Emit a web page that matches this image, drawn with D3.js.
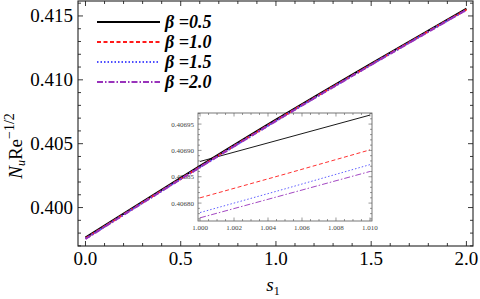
<!DOCTYPE html>
<html>
<head>
<meta charset="utf-8">
<script src="https://cdn.jsdelivr.net/npm/d3@7"></script>
<style>
  body { margin: 0; background: #fff; }
  svg { display: block; }
  svg text { font-family: "Liberation Serif", "Times New Roman", "DejaVu Serif", serif; }
</style>
</head>
<body>
<svg></svg>
<script>
// main plot data
const sValues = [0.0, 0.5, 1.0, 1.5, 2.0];
const nu05 = [0.39765, 0.40232, 0.40688, 0.41127, 0.41557];
const nu10 = [0.39758, 0.40225, 0.40681, 0.41120, 0.41550];
const nu15 = [0.39756, 0.40223, 0.40678, 0.41118, 0.41548];
const nu20 = [0.39754, 0.40222, 0.40677, 0.41117, 0.41547];
const betaLabels = ["0.5", "1.0", "1.5", "2.0"];
const xTicks = [0.0, 0.5, 1.0, 1.5, 2.0];
const yTicks = [0.400, 0.405, 0.410, 0.415];

// inset (zoom near s1 = 1)
const insetS = [1.000, 1.005, 1.010];
const inset05 = [0.406879, 0.406923, 0.406967];
const inset10 = [0.406810, 0.406855, 0.406901];
const inset15 = [0.406782, 0.406827, 0.406873];
const inset20 = [0.406772, 0.406816, 0.406860];
const insetXTicks = [1.000, 1.002, 1.004, 1.006, 1.008, 1.010];
const insetYTicks = [0.40680, 0.40685, 0.40690, 0.40695];

const colors = ["#000000", "#ff1a1a", "#4d4dff", "#9933bb"];
const dashes = [null, "4,2.5", "1.5,2", "6,2,1.5,2"];
const serif = "'Liberation Serif', 'Times New Roman', 'DejaVu Serif', serif";

const svg = d3.select("svg").attr("width", 480).attr("height", 299)
  .attr("font-family", serif);

const x = d3.scaleLinear().domain([-0.0393, 2.0346]).range([78, 473]);
const y = d3.scaleLinear().domain([0.39699, 0.41617]).range([246, 1]);

// ---------- inset ----------
const ix = d3.scaleLinear().domain([0.99988, 1.01012]).range([198, 372]);
const iy = d3.scaleLinear().domain([0.406766, 0.406971]).range([221, 113]);

const inset = svg.append("g");
const insetSeries = [inset05, inset10, inset15, inset20];

inset.selectAll("path.iline")
  .data(insetSeries)
  .enter()
  .append("path")
  .attr("class", "iline")
  .attr("fill", "none")
  .attr("stroke", (d, i) => colors[i])
  .attr("stroke-width", 0.9)
  .attr("stroke-dasharray", (d, i) => dashes[i])
  .attr("d", d => d3.line().x((v, j) => ix(insetS[j])).y(v => iy(v))(d));

inset.append("rect")
  .attr("x", 198).attr("y", 113).attr("width", 174).attr("height", 108)
  .attr("fill", "none").attr("stroke", "#555").attr("stroke-width", 0.8);

const insetTicks = inset.append("g").attr("stroke", "#555").attr("stroke-width", 0.6);
const ixMinor = d3.range(1.000, 1.01001, 0.0005);
ixMinor.forEach((t, k) => {
  const len = k % 4 === 0 ? 3.5 : 2;
  insetTicks.append("line").attr("x1", ix(t)).attr("x2", ix(t)).attr("y1", 221).attr("y2", 221 - len);
  insetTicks.append("line").attr("x1", ix(t)).attr("x2", ix(t)).attr("y1", 113).attr("y2", 113 + len);
});
const iyMinor = d3.range(0.40677, 0.406971, 0.00001);
iyMinor.forEach(t => {
  const major = Math.abs(Math.round(t * 1e5) % 5) === 0;
  const len = major ? 3.5 : 2;
  insetTicks.append("line").attr("x1", 198).attr("x2", 198 + len).attr("y1", iy(t)).attr("y2", iy(t));
  insetTicks.append("line").attr("x1", 372).attr("x2", 372 - len).attr("y1", iy(t)).attr("y2", iy(t));
});

inset.selectAll("text.ixl")
  .data(insetXTicks)
  .enter()
  .append("text")
  .attr("x", d => ix(d))
  .attr("y", 230)
  .attr("text-anchor", "middle")
  .attr("font-size", 7)
  .attr("fill", "#444")
  .text(d => d3.format(".3f")(d));

inset.selectAll("text.iyl")
  .data(insetYTicks)
  .enter()
  .append("text")
  .attr("x", 194)
  .attr("y", d => iy(d) + 2.5)
  .attr("text-anchor", "end")
  .attr("font-size", 7)
  .attr("fill", "#444")
  .text(d => d3.format(".5f")(d));

// ---------- main frame ----------
svg.append("rect")
  .attr("x", 78).attr("y", 1).attr("width", 395).attr("height", 245)
  .attr("fill", "none").attr("stroke", "#222").attr("stroke-width", 1.1);

const ticks = svg.append("g").attr("stroke", "#222").attr("stroke-width", 0.9);
d3.range(0, 2.0001, 0.1).forEach((t, k) => {
  const len = k % 5 === 0 ? 5 : 3;
  ticks.append("line").attr("x1", x(t)).attr("x2", x(t)).attr("y1", 246).attr("y2", 246 - len);
  ticks.append("line").attr("x1", x(t)).attr("x2", x(t)).attr("y1", 1).attr("y2", 1 + len);
});
d3.range(0.397, 0.4161, 0.001).forEach(t => {
  const major = Math.round(t * 1000) % 5 === 0;
  const len = major ? 5 : 3;
  ticks.append("line").attr("x1", 78).attr("x2", 78 + len).attr("y1", y(t)).attr("y2", y(t));
  ticks.append("line").attr("x1", 473).attr("x2", 473 - len).attr("y1", y(t)).attr("y2", y(t));
});

svg.selectAll("text.xl")
  .data(xTicks)
  .enter()
  .append("text")
  .attr("x", d => x(d))
  .attr("y", 265)
  .attr("text-anchor", "middle")
  .attr("font-size", 19)
  .text(d => d3.format(".1f")(d));

svg.selectAll("text.yl")
  .data(yTicks)
  .enter()
  .append("text")
  .attr("x", 73)
  .attr("y", d => y(d) + 6)
  .attr("text-anchor", "end")
  .attr("font-size", 19)
  .text(d => d3.format(".3f")(d));

// axis labels
const xLab = svg.append("text")
  .attr("x", 273).attr("y", 291)
  .attr("text-anchor", "middle")
  .attr("font-size", 19);
xLab.append("tspan").attr("font-style", "italic").text("s");
xLab.append("tspan").attr("font-size", 12).attr("dy", 4).text("1");

const yLab = svg.append("text")
  .attr("transform", "translate(22,146) rotate(-90)")
  .attr("text-anchor", "middle")
  .attr("font-size", 19);
yLab.append("tspan").attr("font-style", "italic").text("N");
yLab.append("tspan").attr("font-style", "italic").attr("font-size", 12).attr("dy", 3).text("u");
yLab.append("tspan").attr("dy", -3).text("Re");
yLab.append("tspan").attr("font-size", 14).attr("dy", -8).text("\u22121/2");

// ---------- main curves ----------
const mainSeries = [nu05, nu10, nu15, nu20];
const line = d3.line()
  .x((v, j) => x(sValues[j]))
  .y(v => y(v))
  .curve(d3.curveMonotoneX);

svg.selectAll("path.mline")
  .data(mainSeries)
  .enter()
  .append("path")
  .attr("class", "mline")
  .attr("fill", "none")
  .attr("stroke", (d, i) => colors[i])
  .attr("stroke-width", 2)
  .attr("stroke-dasharray", (d, i) => dashes[i])
  .attr("d", line);

// ---------- legend ----------
const legend = svg.append("g");
betaLabels.forEach((b, i) => {
  const ly = 22 + i * 20;
  legend.append("line")
    .attr("x1", 97).attr("x2", 160).attr("y1", ly).attr("y2", ly)
    .attr("stroke", colors[i])
    .attr("stroke-width", i === 0 ? 2 : 1.8)
    .attr("stroke-dasharray", dashes[i]);
  legend.append("text")
    .attr("x", 165).attr("y", ly + 6)
    .attr("font-size", 18)
    .attr("font-style", "italic")
    .attr("font-weight", "bold")
    .text("\u03b2 =" + b);
});
</script>
</body>
</html>
